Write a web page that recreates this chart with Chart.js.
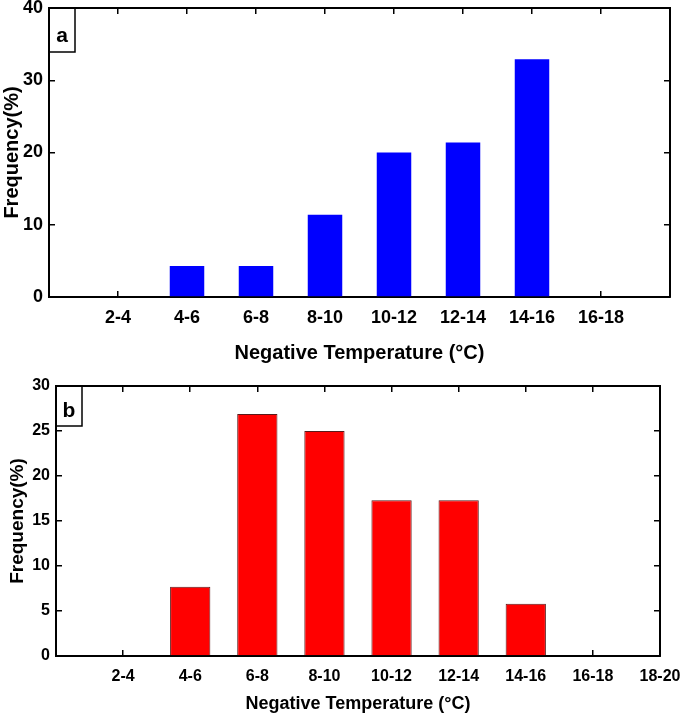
<!DOCTYPE html>
<html>
<head>
<meta charset="utf-8">
<script src="https://cdn.jsdelivr.net/npm/chart.js@4.4.1/dist/chart.umd.min.js"></script>
<style>
    html, body { margin: 0; padding: 0; background: #fff; }
    canvas { position: absolute; left: 0; }
    #chartA { top: 0; }
    #chartB { top: 365px; }
</style>
</head>
<body>
<canvas id="chartA" width="685" height="365"></canvas>
<canvas id="chartB" width="685" height="350"></canvas>
<script>
// ==================== DỮ LIỆU ====================
const nhomA = ["2-4", "4-6", "6-8", "8-10", "10-12", "12-14", "14-16", "16-18"];
const tanSuatA = [0, 4.3, 4.3, 11.4, 20.0, 21.4, 32.9, 0];
const tickYA = [0, 10, 20, 30, 40];

const nhomB = ["2-4", "4-6", "6-8", "8-10", "10-12", "12-14", "14-16", "16-18", "18-20"];
const tanSuatB = [0, 7.7, 26.9, 25.0, 17.3, 17.3, 5.8, 0, 0];
const tickYB = [0, 5, 10, 15, 20, 25, 30];

const tenTrucX = "Negative Temperature (°C)";
const tenTrucY = "Frequency(%)";
const FONT = "'Liberation Sans', Arial, sans-serif";

// ==================== Ô NHÃN a / b ====================
const nhanO = {
    id: "nhanO",
    afterDraw(chart, args, opts) {
        const { ctx, chartArea } = chart;
        ctx.save();
        ctx.lineWidth = 1.5;
        ctx.strokeStyle = "#000";
        ctx.strokeRect(chartArea.left, chartArea.top, opts.w, opts.h);
        ctx.fillStyle = "#000";
        ctx.font = "bold 21px " + FONT;
        ctx.textAlign = "center";
        ctx.textBaseline = "alphabetic";
        ctx.fillText(opts.text, chartArea.left + opts.w / 2, chartArea.top + opts.baseline);
        ctx.restore();
    }
};

// ==================== VẼ BIỂU ĐỒ ====================
function veBieuDo(canvasId, nhom, giaTri, tickY, cfg) {
    const datTickX = s => { s.ticks = nhom.map((c, i) => ({ value: i + 1 })); };
    const datTickY = s => { s.ticks = tickY.map(v => ({ value: v })); };
    const vach = { drawOnChartArea: false, tickLength: -6, color: "#000", lineWidth: 1.5, offset: false };
    const vien = { display: true, color: "#000", width: 2 };
    const xMax = 9;
    // bỏ phần đệm do nhãn tràn ra ngoài vùng vẽ
    const boDemDoc = s => { s.paddingTop = 0; s.paddingBottom = 0; };
    const boDemNgang = s => { s.paddingLeft = 0; s.paddingRight = 0; };

    new Chart(document.getElementById(canvasId), {
        type: "bar",
        data: {
            datasets: [{
                data: giaTri.map((v, i) => ({ x: i + 1, y: v })),
                backgroundColor: cfg.mau,
                borderColor: cfg.mauVien,
                borderWidth: cfg.doDayVien,
                barPercentage: cfg.doRongCot,
                categoryPercentage: 1.0
            }]
        },
        options: {
            responsive: false,
            animation: false,
            layout: { padding: { top: cfg.padTop, left: 0, right: 0, bottom: 0 } },
            plugins: {
                legend: { display: false },
                tooltip: { enabled: false },
                nhanO: cfg.nhan
            },
            scales: {
                x: {
                    type: "linear", position: "bottom", min: 0, max: xMax, z: 1, offset: false,
                    afterBuildTicks: datTickX,
                    afterFit: s => { s.height = cfg.caoTrucX; boDemNgang(s); },
                    ticks: {
                        callback: v => nhom[v - 1],
                        autoSkip: false, maxRotation: 0,
                        color: "#000", padding: cfg.padTickX,
                        font: { family: FONT, size: cfg.coChuTick, weight: "bold" }
                    },
                    grid: vach, border: vien,
                    title: {
                        display: true, text: tenTrucX, color: "#000", padding: 0,
                        font: { family: FONT, size: cfg.coChuX, weight: "bold" }
                    }
                },
                x2: {
                    type: "linear", position: "top", min: 0, max: xMax, z: 1, offset: false,
                    afterBuildTicks: datTickX,
                    afterFit: s => { s.height = 0; boDemNgang(s); },
                    ticks: { display: false },
                    grid: vach, border: vien
                },
                y: {
                    type: "linear", position: "left", min: tickY[0], max: tickY[tickY.length - 1], z: 1,
                    afterBuildTicks: datTickY,
                    afterFit: s => { s.width = cfg.rongTrucY; boDemDoc(s); },
                    ticks: {
                        color: "#000", padding: 12,
                        font: { family: FONT, size: cfg.coChuTickY, weight: "bold" }
                    },
                    grid: vach, border: vien,
                    title: {
                        display: true, text: tenTrucY, color: "#000", padding: { top: cfg.padTitleY, bottom: 0 },
                        font: { family: FONT, size: cfg.coChuY, weight: "bold" }
                    }
                },
                y2: {
                    type: "linear", position: "right", min: tickY[0], max: tickY[tickY.length - 1], z: 1,
                    afterBuildTicks: datTickY,
                    afterFit: s => { s.width = cfg.rongPhai; boDemDoc(s); },
                    ticks: { display: false },
                    grid: vach, border: vien
                }
            }
        },
        plugins: [nhanO]
    });
}

veBieuDo("chartA", nhomA, tanSuatA, tickYA, {
    mau: "#0000ff", mauVien: "#0000ff", doDayVien: 0, doRongCot: 0.5,
    padTop: 8, caoTrucX: 68, rongTrucY: 49, rongPhai: 15,
    padTickX: 16, coChuTick: 18, coChuTickY: 18, coChuX: 20, coChuY: 20, padTitleY: 0,
    nhan: { text: "a", w: 26, h: 44, baseline: 34 }
});

veBieuDo("chartB", nhomB, tanSuatB, tickYB, {
    mau: "#ff0000", mauVien: "#5a1a1a", doDayVien: 1, doRongCot: 0.6,
    padTop: 21, caoTrucX: 59, rongTrucY: 56, rongPhai: 25,
    padTickX: 17, coChuTick: 16, coChuTickY: 16, coChuX: 18, coChuY: 19, padTitleY: 6,
    nhan: { text: "b", w: 26, h: 40, baseline: 31 }
});
</script>
</body>
</html>
